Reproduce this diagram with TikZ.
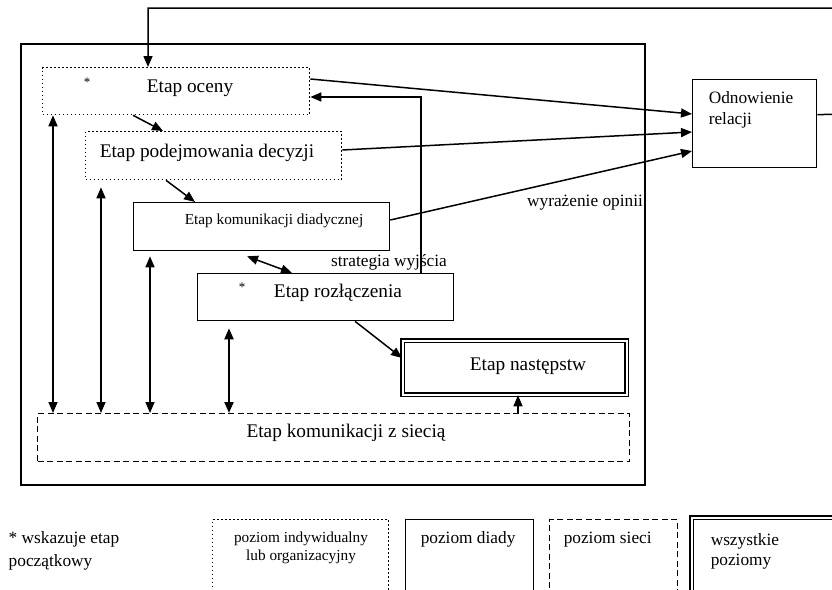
\documentclass[tikz,border=0pt]{standalone}
\usepackage{fontspec}
\setmainfont{Liberation Serif}
\usetikzlibrary{arrows.meta}

\begin{document}
\begin{tikzpicture}[x = 1pt, y = -1pt, line width = 1.5pt,
	box/.style = {draw, rectangle, inner sep = 0pt, anchor = north west, line width = 1.3pt},
	dotbox/.style = {box, dash pattern = on 1.5pt off 2.5pt},
	dashbox/.style = {box, dash pattern = on 6pt off 3.5pt},
	dblbox/.style = {box, double, double distance = 2pt, line width = 1.3pt},
	arr/.style = {-{Triangle[length = 11pt, width = 9pt]}},
	darr/.style = {{Triangle[length = 11pt, width = 9pt]}-{Triangle[length = 11pt, width = 9pt]}},
	bigtxt/.style = {font = \fontsize{19.3}{22}\selectfont},
	midtxt/.style = {font = \fontsize{17.3}{21}\selectfont},
	smalltxt/.style = {font = \fontsize{15.3}{18}\selectfont},
	startxt/.style = {font = \fontsize{13}{15}\selectfont}]
				\useasboundingbox (0, 0) rectangle (832, 589);
				\clip (0, 0) rectangle (832, 589);
				\draw[line width = 1.5pt] (21, 44) rectangle (645, 485);
				% etapy
				\node[dotbox, minimum width = 267pt, minimum height = 47pt] (ocena) at (42, 67) {};
				\node[bigtxt] (ocenatxt) at (190, 88) {Etap oceny};
				\node[startxt] (ocenastar) at (87, 82) {*};
				\node[dotbox, minimum width = 256pt, minimum height = 48pt] (podejm) at (85, 131) {};
				\node[bigtxt] (podejmtxt) at (207, 153) {Etap podejmowania decyzji};
				\node[box, minimum width = 256pt, minimum height = 48pt] (diad) at (133, 202) {};
				\node[smalltxt] (diadtxt) at (274, 221) {Etap komunikacji diadycznej};
				\node[box, minimum width = 256pt, minimum height = 47pt] (rozl) at (197, 273) {};
				\node[bigtxt] (rozltxt) at (338, 293) {Etap rozłączenia};
				\node[startxt] (rozlstar) at (242, 287) {*};
				\node[dblbox, minimum width = 224pt, minimum height = 54pt] (nast) at (402, 340) {};
				\node[bigtxt] (nasttxt) at (528, 366) {Etap następstw};
				\node[dashbox, minimum width = 592pt, minimum height = 48pt] (siec) at (37, 413) {};
				\node[bigtxt] (siectxt) at (346, 433) {Etap komunikacji z siecią};
				\node[box, minimum width = 124pt, minimum height = 88pt] (odn) at (692, 79) {};
				\node[midtxt, anchor = base west, align = left, inner sep = 0pt] (odntxt) at (708, 124) {Odnowienie\\relacji};
				% strzalki
				\draw[arr] ([xshift = 91pt]ocena.south west) -- ([xshift = 78pt]podejm.north west);
				\draw[arr] ([xshift = 81pt]podejm.south west) -- ([xshift = 62pt]diad.north west);
				\draw[darr] ([xshift = 114pt, yshift = -5pt]diad.south west) -- ([xshift = 95pt]rozl.north west);
				\draw[arr] ([xshift = 158pt]rozl.south west) -- ([yshift = -18pt]nast.north west);
				\draw[arr] ([xshift = 481pt]siec.north west) -- ([xshift = 481pt]siec.north west |- nast.south);
				\draw[arr] ([xshift = 224pt]rozl.north west) |- ([yshift = -30pt]ocena.north east);
				\draw[arr] ([yshift = -12pt]ocena.north east) -- ([yshift = -35pt]odn.north west);
				\draw[arr] ([yshift = -19pt]podejm.north east) -- ([yshift = -53pt]odn.north west);
				\draw[arr] ([yshift = -18pt]diad.north east) -- ([yshift = -72pt]odn.north west);
				\draw[arr] ([yshift = 9pt]odn.east) -- (845, 114) -- (845, 8) -| ([xshift = 106pt]ocena.north west);
				% pionowe
				\draw[darr] ([xshift = 16pt]siec.north west) -- ([xshift = 16pt]siec.north west |- ocena.south);
				\draw[darr, shorten >= 7pt] ([xshift = 64pt]siec.north west) -- ([xshift = 64pt]siec.north west |- podejm.south);
				\draw[darr, shorten >= 5pt] ([xshift = 113pt]siec.north west) -- ([xshift = 113pt]siec.north west |- diad.south);
				\draw[darr, line width = 2pt, shorten >= 7pt] ([xshift = 192pt]siec.north west) -- ([xshift = 192pt]siec.north west |- rozl.south);
				\node[midtxt] (wyjscie) at (389, 262) {strategia wyjścia};
				\node[midtxt] (opinia) at (585, 203) {wyrażenie opinii};
				% legenda
				\node[anchor = base west, align = left, inner sep = 0pt, font = \fontsize{17.3}{23}\selectfont] (gwiazdka) at (8, 566) {* wskazuje etap\\początkowy};
				\node[dotbox, minimum width = 176pt, minimum height = 90pt] (legind) at (212, 519) {};
				\node[smalltxt, anchor = base, align = center, inner sep = 0pt] (legindtxt) at (301, 560) {poziom indywidualny\\lub organizacyjny};
				\node[box, minimum width = 128pt, minimum height = 90pt] (legdiad) at (405, 519) {};
				\node[midtxt, anchor = base west, inner sep = 0pt] (legdiadtxt) at (420, 543) {poziom diady};
				\node[dashbox, minimum width = 128pt, minimum height = 90pt] (legsiec) at (549, 519) {};
				\node[midtxt, anchor = base west, inner sep = 0pt] (legsiectxt) at (563, 543) {poziom sieci};
				\node[dblbox, minimum width = 160pt, minimum height = 92pt] (legall) at (691, 517) {};
				\node[anchor = base west, align = left, inner sep = 0pt, font = \fontsize{17.3}{20}\selectfont] (legalltxt) at (710, 565) {wszystkie\\poziomy};
			\end{tikzpicture}
\end{document}
